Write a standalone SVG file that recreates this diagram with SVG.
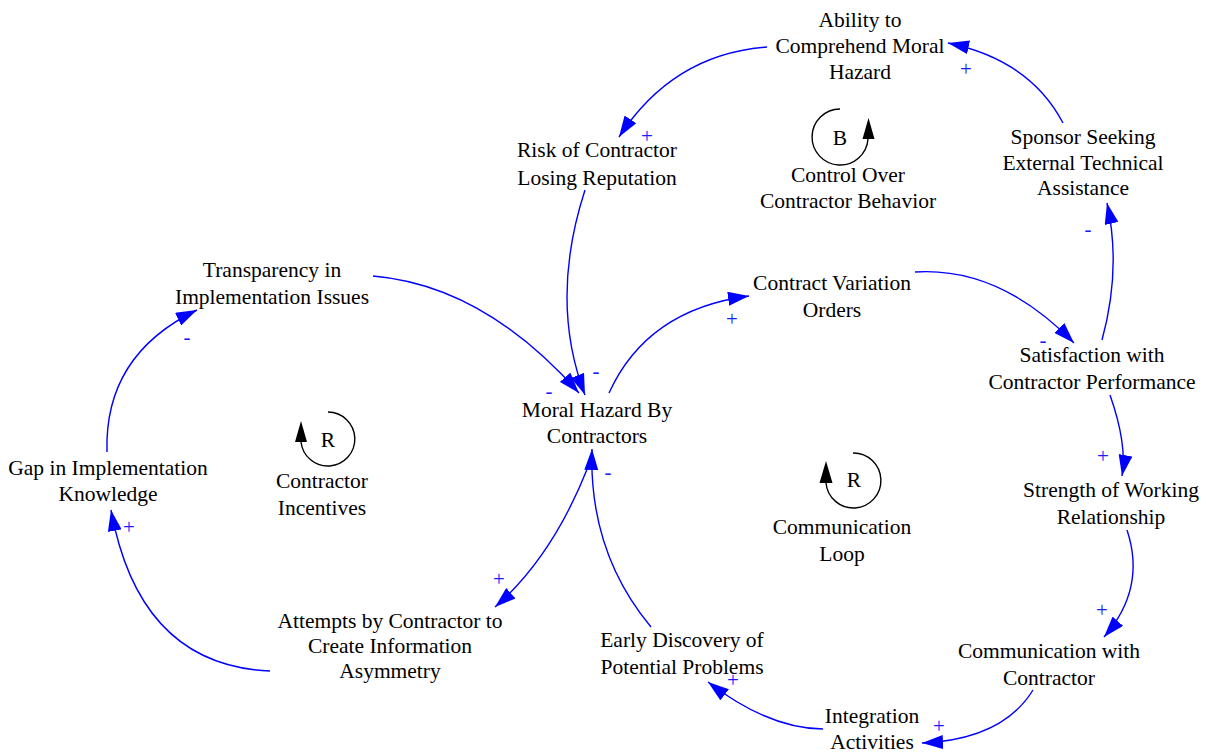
<svg xmlns="http://www.w3.org/2000/svg" width="1206" height="753" viewBox="0 0 1206 753">
  <defs>
    <style>
      .lbl { font-family: "Liberation Serif", "Times New Roman", serif; font-size: 21.5px; fill: #000; text-anchor: middle; }
      .pol { font-family: "Liberation Serif", "Times New Roman", serif; font-size: 21px; fill: #1a1aff; text-anchor: middle; }
      .link { fill: none; stroke: #0000ff; stroke-width: 1.4; marker-end: url(#ah); }
      .loop { fill: none; stroke: #000; stroke-width: 1.4; }
      .loophead { fill: #000; }
    </style>
    <marker id="ah" markerUnits="userSpaceOnUse" markerWidth="21" markerHeight="14" refX="21" refY="7" orient="auto">
      <path d="M0,0 L21,7 L0,14 z" fill="#0000ff"/>
    </marker>
  </defs>
  <rect width="1206" height="753" fill="#fff"/>

  <!-- causal links -->
  <g id="connectors">
    <path class="link" d="M1063,123 Q1030,60 948,43"/>
    <path class="link" d="M767,47 Q673,54 619,137"/>
    <path class="link" d="M585,190 Q549,301 585,395"/>
    <path class="link" d="M373,276 Q484,285.5 579,393"/>
    <path class="link" d="M609,393 Q647,309.5 749,296"/>
    <path class="link" d="M915,272 Q999.5,266.5 1074,343"/>
    <path class="link" d="M1102,340 Q1121.5,268.5 1107,203"/>
    <path class="link" d="M1110,395 Q1127.4,444.5 1122,476"/>
    <path class="link" d="M1127,530 Q1146.5,588.5 1104,637"/>
    <path class="link" d="M1033,690 Q1002.5,739.5 922,743"/>
    <path class="link" d="M823,729 Q768.5,728.5 708,682"/>
    <path class="link" d="M651,627 Q588.5,552 592,449"/>
    <path class="link" d="M588,467 Q552.5,557 495,607"/>
    <path class="link" d="M270,671 Q139.5,665.5 111,510"/>
    <path class="link" d="M107,452 Q104,355 197,310"/>
  </g>

  <!-- link polarities -->
  <g id="polarities">
    <text class="pol" x="966" y="76">+</text>
    <text class="pol" x="647" y="143">+</text>
    <text class="pol" x="596" y="378">-</text>
    <text class="pol" x="549" y="398">-</text>
    <text class="pol" x="732" y="326">+</text>
    <text class="pol" x="1043" y="347">-</text>
    <text class="pol" x="1088" y="236">-</text>
    <text class="pol" x="1103" y="463">+</text>
    <text class="pol" x="1102" y="617">+</text>
    <text class="pol" x="939" y="733">+</text>
    <text class="pol" x="733" y="687">+</text>
    <text class="pol" x="608" y="479">-</text>
    <text class="pol" x="499" y="586">+</text>
    <text class="pol" x="129" y="534">+</text>
    <text class="pol" x="187" y="344">-</text>
  </g>

  <!-- variables -->
  <g id="ability">
    <text class="lbl"><tspan x="860" y="26.5">Ability to</tspan><tspan x="860" y="52.5">Comprehend Moral</tspan><tspan x="860" y="78.5">Hazard</tspan></text>
  </g>
  <g id="risk">
    <text class="lbl"><tspan x="597" y="157">Risk of Contractor</tspan><tspan x="597" y="185">Losing Reputation</tspan></text>
  </g>
  <g id="sponsor">
    <text class="lbl"><tspan x="1083" y="144">Sponsor Seeking</tspan><tspan x="1083" y="169.5">External Technical</tspan><tspan x="1083" y="195">Assistance</tspan></text>
  </g>
  <g id="transparency">
    <text class="lbl"><tspan x="272" y="277">Transparency in</tspan><tspan x="272" y="303.5">Implementation Issues</tspan></text>
  </g>
  <g id="variation">
    <text class="lbl"><tspan x="832" y="290">Contract Variation</tspan><tspan x="832" y="317">Orders</tspan></text>
  </g>
  <g id="satisfaction">
    <text class="lbl"><tspan x="1092" y="362">Satisfaction with</tspan><tspan x="1092" y="389">Contractor Performance</tspan></text>
  </g>
  <g id="moral-hazard">
    <text class="lbl"><tspan x="597" y="416.5">Moral Hazard By</tspan><tspan x="597" y="443">Contractors</tspan></text>
  </g>
  <g id="gap">
    <text class="lbl"><tspan x="108" y="475">Gap in Implementation</tspan><tspan x="108" y="501">Knowledge</tspan></text>
  </g>
  <g id="strength">
    <text class="lbl"><tspan x="1111" y="497">Strength of Working</tspan><tspan x="1111" y="524">Relationship</tspan></text>
  </g>
  <g id="attempts">
    <text class="lbl"><tspan x="390" y="628">Attempts by Contractor to</tspan><tspan x="390" y="653">Create Information</tspan><tspan x="390" y="678">Asymmetry</tspan></text>
  </g>
  <g id="early-discovery">
    <text class="lbl"><tspan x="682" y="647">Early Discovery of</tspan><tspan x="682" y="674">Potential Problems</tspan></text>
  </g>
  <g id="communication">
    <text class="lbl"><tspan x="1049" y="658">Communication with</tspan><tspan x="1049" y="685">Contractor</tspan></text>
  </g>
  <g id="integration">
    <text class="lbl"><tspan x="872" y="723">Integration</tspan><tspan x="872" y="749">Activities</tspan></text>
  </g>

  <!-- loop identifiers -->
  <g id="loop-control">
    <path class="loop" d="M840,109 A28,28 0 1 0 868,139"/>
    <polygon class="loophead" points="862.5,139 874.5,139 868.5,118"/>
    <text class="lbl" x="840" y="145">B</text>
    <text class="lbl"><tspan x="848" y="182">Control Over</tspan><tspan x="848" y="208">Contractor Behavior</tspan></text>
  </g>
  <g id="loop-incentives">
    <path class="loop" d="M328,412 A27,27 0 1 1 301,442"/>
    <polygon class="loophead" points="295,442 307,442 301,421"/>
    <text class="lbl" x="328" y="447">R</text>
    <text class="lbl"><tspan x="322" y="488">Contractor</tspan><tspan x="322" y="515">Incentives</tspan></text>
  </g>
  <g id="loop-communication">
    <path class="loop" d="M853,453 A27.5,27.5 0 1 1 826,483"/>
    <polygon class="loophead" points="819.5,483 832.5,483 826,461"/>
    <text class="lbl" x="854" y="487">R</text>
    <text class="lbl"><tspan x="842" y="534">Communication</tspan><tspan x="842" y="561">Loop</tspan></text>
  </g>
</svg>
